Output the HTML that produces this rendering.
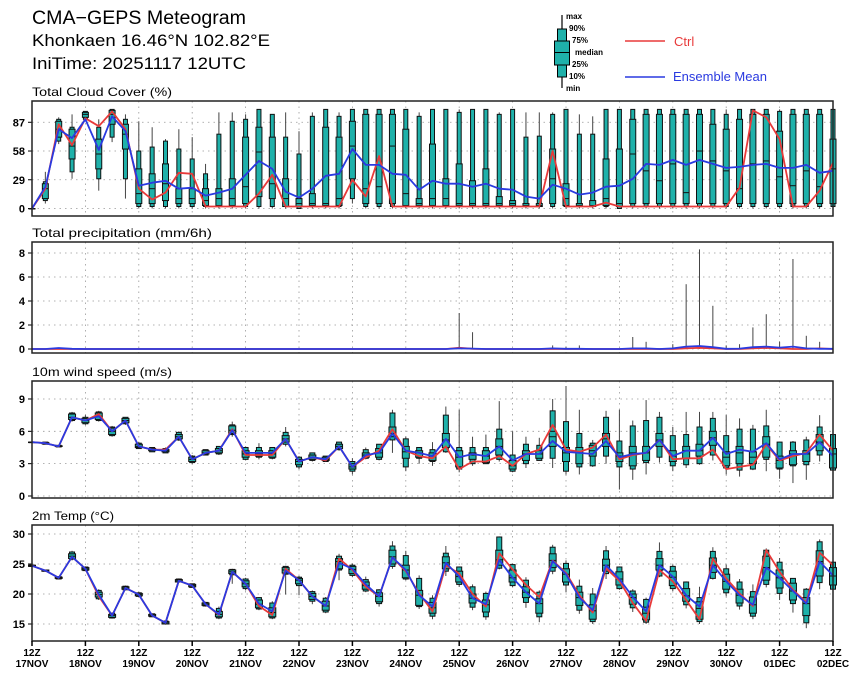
<!DOCTYPE html>
<html><head><meta charset="utf-8"><style>
html,body{margin:0;padding:0;background:#fff;}
svg{display:block;font-family:"Liberation Sans",sans-serif;}
</style></head><body>
<svg id="chart" width="860" height="679" viewBox="0 0 860 679" xmlns="http://www.w3.org/2000/svg">
<text x="32" y="24" font-size="19" textLength="214" lengthAdjust="spacingAndGlyphs">CMA−GEPS Meteogram</text>
<text x="32" y="46" font-size="17" textLength="238" lengthAdjust="spacingAndGlyphs">Khonkaen 16.46°N 102.82°E</text>
<text x="32" y="69" font-size="17" textLength="214" lengthAdjust="spacingAndGlyphs">IniTime: 20251117 12UTC</text>
<g>
 <line x1="562" y1="15" x2="562" y2="88" stroke="#000" stroke-width="1.2"/>
 <rect x="557.5" y="29" width="9" height="13" fill="#1fb1aa" stroke="#000"/>
 <rect x="554.5" y="41" width="15" height="24" fill="#1fb1aa" stroke="#000"/>
 <line x1="554.5" y1="52.5" x2="569.5" y2="52.5" stroke="#000"/>
 <rect x="557.5" y="65" width="9" height="12" fill="#1fb1aa" stroke="#000"/>
 <g font-size="8" font-weight="bold">
  <text x="566" y="19">max</text><text x="569" y="31">90%</text><text x="572" y="43">75%</text>
  <text x="575" y="55">median</text><text x="572" y="67">25%</text><text x="569" y="79">10%</text><text x="566" y="91">min</text>
 </g>
 <line x1="625" y1="41" x2="665" y2="41" stroke="#e83a3a" stroke-width="1.5"/>
 <text x="674" y="46" font-size="13" fill="#e83a3a">Ctrl</text>
 <line x1="625" y1="77" x2="665" y2="77" stroke="#2a3ae0" stroke-width="1.5"/>
 <text x="673" y="81" font-size="13" fill="#2a3ae0">Ensemble Mean</text>
</g>
<g id="plots"></g>
</svg>
<script>
// ---------- data (61 steps, 6-hourly from 2025-11-17 12Z) ----------
const dayLabels = ["17NOV","18NOV","19NOV","20NOV","21NOV","22NOV","23NOV","24NOV","25NOV","26NOV","27NOV","28NOV","29NOV","30NOV","01DEC","02DEC"];
// Cloud cover
const cloudCtrl = [0,20,85,64,91,83,98,80,20,9,16,36,35,2,2,2,2,15,34,2,2,2,2,2,29,12,53,2,2,2,2,2,2,2,2,2,2,2,2,58,2,2,2,6,2,2,2,2,2,2,2,2,2,21,99,92,70,2,2,18,46];
const cloudMean = [0,22,80,71,90,59,93,78,23,26,28,20,21,13,16,20,34,48,40,17,11,20,33,35,60,44,44,35,34,19,28,25,25,22,25,20,19,12,10,24,20,14,16,22,23,30,45,44,49,44,49,45,41,42,44,45,41,41,44,36,38];
const cloudMin = [0,5,65,30,88,18,67,10,0,0,0,0,0,0,0,0,0,0,0,0,0,0,0,0,5,0,0,0,0,0,0,0,0,0,0,0,0,0,0,0,0,0,0,0,0,0,0,0,0,0,0,0,0,0,0,0,0,0,0,0,0];
const cloudP10 = [0,8,68,37,90,30,72,30,2,2,2,2,2,2,2,2,2,2,2,2,0,2,2,2,10,2,2,2,2,2,2,2,2,2,2,2,2,2,2,2,2,2,2,2,0,2,2,2,2,2,2,2,2,2,2,2,2,2,2,2,2];
const cloudP25 = [0,10,72,50,92,40,85,60,5,5,8,5,5,3,3,3,5,12,10,2,2,3,3,3,30,5,5,5,3,3,3,3,3,3,3,3,3,2,2,5,3,2,2,3,2,5,5,5,5,5,5,5,5,5,5,5,5,5,5,5,5];
const cloudMed = [0,20,80,63,95,55,95,75,15,20,25,10,10,8,10,10,22,57,25,10,5,5,5,10,63,20,22,63,15,5,10,10,5,5,5,5,5,3,3,30,10,3,3,10,5,55,38,28,45,16,58,48,38,20,45,48,32,23,38,22,40];
const cloudP75 = [0,25,88,80,97,70,99,85,40,35,45,20,20,20,20,30,72,82,72,30,10,15,82,72,88,95,95,95,80,10,65,30,45,28,40,12,8,5,5,60,25,5,8,50,60,90,95,95,95,95,95,85,80,90,95,95,78,95,95,95,70];
const cloudP90 = [0,27,90,82,98,82,100,90,58,62,68,60,50,35,75,88,90,100,95,72,55,93,100,93,100,100,100,100,100,93,100,100,97,100,100,95,100,72,73,95,100,75,75,100,100,100,100,100,100,100,100,100,95,100,100,100,98,100,100,100,100];
const cloudMax = [0,37,92,95,98,90,100,95,88,82,70,80,72,45,97,97,95,100,95,97,78,97,100,97,100,100,100,100,100,97,100,100,100,100,100,97,100,97,97,97,100,95,93,100,100,100,100,100,100,100,100,100,100,100,100,100,100,100,100,100,100];
// Precipitation
const precCtrl = [0,0,0,0,0,0,0,0,0,0,0,0,0,0,0,0,0,0,0,0,0,0,0,0,0,0,0,0,0,0,0,0,0.1,0.02,0,0,0,0,0,0,0,0,0,0,0,0,0,0,0,0.05,0.1,0.05,0,0,0.05,0.1,0.05,0,0,0.05,0];
const precMean = [0,0,0.08,0.02,0,0,0,0,0,0,0,0,0,0,0,0,0,0,0,0,0,0,0,0,0,0,0,0,0,0,0,0,0.05,0.03,0,0,0,0,0,0.05,0.02,0.02,0,0,0,0.05,0.05,0,0.05,0.2,0.25,0.15,0.02,0.03,0.15,0.2,0.12,0.2,0.05,0.02,0.02];
const precMax = [0,0,0.1,0,0,0,0,0,0,0,0,0,0,0,0,0,0,0,0,0,0,0,0,0,0,0,0,0,0,0,0,0,3.0,1.4,0,0,0,0,0,0.3,0.2,0.3,0,0,0,1.0,0.6,0,0.4,5.4,8.3,3.6,0.3,0.4,1.8,2.9,0.6,7.5,1.1,0.6,0.1];
// Wind speed
const windCtrl = [5.0,4.9,4.6,7.3,7.0,7.6,6.0,7.0,4.6,4.3,4.3,5.5,3.4,4.0,4.2,6.2,3.8,3.8,3.8,5.3,3.2,3.6,3.3,4.6,2.7,3.6,4.2,6.2,4.2,3.7,3.5,4.6,2.5,3.2,3.2,3.7,2.8,3.9,4.3,6.6,4.3,4.1,4.5,5.7,3.4,3.8,4.0,5.2,3.4,3.5,3.5,4.3,2.5,2.7,2.9,4.8,3.3,3.7,4.0,5.7,4.2];
const windMean = [5.0,4.9,4.6,7.3,7.0,7.4,6.0,7.0,4.6,4.3,4.2,5.5,3.4,4.0,4.2,6.1,4.0,4.0,4.0,5.3,3.2,3.6,3.4,4.6,2.7,3.8,4.0,5.8,4.2,4.0,3.7,5.3,3.6,3.9,3.7,4.6,3.3,3.9,3.9,5.1,4.1,4.0,3.9,5.1,3.6,3.9,4.0,5.2,3.7,4.2,4.2,5.4,3.9,4.3,4.1,4.9,3.4,3.9,3.9,5.0,3.7];
const windMed = [5.0,4.9,4.6,7.3,7.0,7.4,6.0,7.0,4.6,4.3,4.2,5.5,3.4,4.0,4.2,6.1,3.9,3.9,3.9,5.3,3.2,3.6,3.4,4.6,2.7,3.8,4.0,5.8,4.1,4.0,3.7,5.2,3.6,3.8,3.7,4.6,2.8,3.9,3.9,5.5,4.0,4.0,4.2,5.3,3.7,4.0,4.0,5.2,3.7,4.2,4.2,5.4,3.6,4.0,3.6,4.8,3.3,3.9,3.9,5.0,3.9];
const windP25 = [5.0,4.85,4.6,7.1,6.8,7.1,5.7,6.8,4.5,4.2,4.1,5.3,3.2,3.9,4.0,5.8,3.6,3.7,3.6,5.0,2.9,3.4,3.3,4.4,2.5,3.6,3.6,5.5,3.5,3.6,3.3,4.5,2.7,3.4,3.1,3.8,2.5,3.3,3.5,4.6,3.2,3.0,3.7,4.6,3.2,2.8,3.3,4.6,3.2,3.5,3.7,4.7,2.8,3.0,3.0,3.6,2.6,2.9,3.2,4.2,2.6];
const windP75 = [5.0,4.95,4.65,7.6,7.2,7.7,6.3,7.2,4.8,4.4,4.3,5.7,3.6,4.2,4.4,6.5,4.2,4.2,4.2,5.6,3.4,3.8,3.6,4.8,3.0,4.0,4.4,6.4,4.6,4.2,4.0,5.8,4.2,4.0,4.2,5.3,3.3,4.2,4.2,6.0,4.5,4.5,4.7,5.8,4.0,4.6,4.6,5.8,4.2,4.6,4.8,6.0,4.1,4.6,4.1,5.5,3.7,4.2,4.2,5.7,4.4];
const windP10 = [5.0,4.8,4.55,7.0,6.7,7.0,5.6,6.7,4.4,4.1,4.0,5.2,3.1,3.8,3.9,5.7,3.4,3.6,3.5,4.8,2.7,3.3,3.2,4.3,2.3,3.5,3.4,5.2,2.7,3.5,3.2,4.1,2.5,3.0,3.0,3.4,2.3,3.0,3.3,3.5,2.3,2.7,2.8,3.7,2.7,2.5,3.1,3.6,2.8,2.9,3.0,3.8,2.6,2.4,2.5,3.4,2.5,2.8,2.9,3.8,2.4];
const windP90 = [5.0,5.0,4.7,7.7,7.3,7.8,6.4,7.3,4.9,4.5,4.4,5.9,3.7,4.3,4.6,6.6,4.5,4.5,4.5,5.9,3.6,4.0,3.7,5.0,3.2,4.3,4.8,7.7,5.3,4.5,4.3,7.5,4.5,4.5,4.5,6.2,3.8,4.8,4.7,7.9,6.9,5.8,4.9,7.3,5.1,6.5,7.0,7.3,5.6,5.7,6.4,7.2,5.6,6.2,6.2,6.5,5.0,5.0,5.2,6.4,5.7];
const windMin = [5.0,4.8,4.5,6.9,6.6,6.9,5.5,6.6,4.4,4.1,4.0,5.1,3.0,3.8,3.8,5.5,3.3,3.4,3.4,4.6,2.5,3.2,3.2,4.2,2.0,3.4,3.3,4.0,2.3,3.0,2.8,4.0,2.2,2.8,3.0,3.2,2.2,2.6,3.3,2.6,2.0,2.0,2.7,3.0,0.6,1.5,2.0,3.1,2.3,2.6,2.9,3.3,2.0,1.8,2.4,2.3,1.6,1.2,1.5,3.2,2.2];
const windMax = [5.0,5.0,4.7,7.8,7.5,7.9,6.5,7.3,5.0,4.5,4.5,6.0,3.8,4.3,4.6,6.9,4.6,4.9,4.5,6.4,3.7,4.0,3.7,5.0,3.5,4.5,4.8,8.0,5.5,4.5,5.0,8.3,8.0,5.5,5.7,8.8,6.0,5.5,5.4,9.0,10.2,8.0,5.2,7.9,8.0,7.0,8.9,7.8,6.4,7.8,7.8,7.8,7.5,7.2,6.6,8.0,5.0,5.1,5.5,7.5,5.7];
// 2m temperature
const tempCtrl = [24.7,23.9,22.7,26.2,24.2,19.6,16.4,21.0,19.9,16.4,15.2,22.2,21.4,18.3,16.5,23.7,21.7,18.0,16.5,24.2,22.3,19.6,18.0,25.9,24.0,21.2,19.6,26.1,23.8,20.1,17.1,24.8,23.4,20.0,17.9,26.8,24.1,21.5,19.5,25.6,23.5,19.8,16.9,24.3,22.2,18.5,15.5,24.0,22.1,19.0,15.8,25.9,22.6,20.1,18.0,27.3,23.7,20.7,18.6,26.9,24.8];
const tempMean = [24.7,23.9,22.7,26.2,24.2,19.9,16.4,21.0,19.9,16.4,15.2,22.2,21.4,18.3,16.6,23.7,21.7,18.4,17.1,23.9,22.3,19.6,18.0,25.2,24.2,21.6,19.6,26.1,24.0,19.8,17.9,25.2,22.9,19.3,18.3,25.7,22.7,20.3,18.4,25.5,23.3,19.4,17.3,24.8,22.5,19.5,17.1,24.8,22.9,19.8,17.9,24.8,22.1,19.8,18.2,24.4,22.7,20.5,18.4,25.4,23.1];
const tempMed = [24.7,23.9,22.7,26.3,24.2,19.9,16.4,21.0,19.9,16.4,15.2,22.2,21.4,18.3,16.6,23.7,21.7,18.3,16.9,24.0,22.3,19.6,18.0,25.4,24.1,21.4,19.6,26.2,24.0,19.8,17.7,25.2,22.9,19.3,18.2,25.7,22.7,20.3,18.4,25.6,23.3,19.4,17.2,24.8,22.5,19.4,16.8,24.8,22.8,19.7,17.6,24.8,22.1,19.8,18.2,24.4,22.7,20.5,18.4,25.4,23.0];
const tempP25 = [24.6,23.8,22.6,25.9,24.0,19.5,16.1,20.8,19.7,16.3,15.0,22.0,21.2,18.1,16.2,23.4,21.2,17.7,16.2,23.5,21.7,19.1,17.3,24.2,23.4,20.8,18.7,25.0,22.7,18.1,16.8,24.2,22.0,18.5,17.0,24.8,22.0,19.4,16.8,24.4,22.0,18.1,15.8,23.8,21.5,18.3,15.7,24.0,21.4,18.8,15.8,23.6,20.8,18.5,16.8,22.3,21.0,19.0,16.4,23.0,21.5];
const tempP75 = [24.8,24.0,22.8,26.7,24.4,20.3,16.6,21.2,20.1,16.6,15.4,22.4,21.6,18.5,17.1,24.0,22.2,19.0,17.7,24.4,22.6,20.1,18.8,25.9,24.6,22.0,20.2,27.3,24.8,20.6,18.6,26.2,23.8,20.0,19.0,27.3,24.0,21.2,19.2,26.7,24.2,20.3,18.2,25.8,23.7,20.0,17.8,25.9,23.8,20.9,18.7,26.0,23.3,20.8,19.5,26.3,24.0,21.8,19.4,27.2,24.4];
const tempP10 = [24.6,23.8,22.5,25.8,23.9,19.2,16.0,20.7,19.6,16.2,15.0,22.0,21.1,18.0,16.0,23.2,20.9,17.5,16.0,23.3,21.4,18.8,17.0,24.0,23.1,20.5,18.4,24.6,22.5,17.9,16.3,23.8,21.6,17.8,16.2,24.3,21.4,18.6,16.2,23.8,21.5,17.3,15.4,23.4,20.9,17.7,15.3,23.0,20.9,18.2,15.4,22.6,20.2,18.0,16.3,21.6,20.1,18.4,15.2,21.9,20.8];
const tempP90 = [24.8,24.0,22.9,27.0,24.5,20.6,16.8,21.3,20.2,16.7,15.5,22.5,21.7,18.6,17.6,24.1,22.5,19.4,18.5,24.6,22.8,20.4,19.3,26.3,24.8,22.4,20.7,28.0,26.4,22.6,19.3,26.8,24.5,21.2,20.1,29.5,24.9,22.3,20.3,27.8,25.1,21.3,20.0,27.2,24.5,20.5,19.1,27.1,24.6,22.0,19.4,27.1,24.2,22.0,20.4,27.3,25.3,22.6,20.8,28.7,25.3];
const tempMin = [24.5,23.7,22.5,25.6,23.8,19.0,15.9,20.6,19.5,16.2,14.9,21.9,21.0,17.9,15.8,21.7,20.6,17.3,15.8,19.9,19.8,18.3,16.8,22.3,22.8,20.3,17.9,24.2,22.3,17.5,15.8,23.0,21.2,17.3,15.7,24.1,21.1,17.7,15.3,23.3,20.3,16.7,15.0,22.5,20.7,17.0,15.0,22.8,20.5,17.6,15.0,22.4,19.6,17.4,15.8,21.1,19.0,16.9,14.3,20.8,20.4];
const tempMax = [24.9,24.1,22.9,27.2,24.6,20.8,16.9,21.4,20.3,16.7,15.5,22.6,21.7,18.7,17.9,24.2,22.7,19.5,18.8,24.7,23.0,20.6,19.5,26.7,25.1,22.9,20.8,28.8,27.2,23.1,19.8,28.0,24.6,21.6,20.4,29.6,25.1,22.8,20.6,28.2,25.6,22.4,21.0,28.0,24.6,20.8,19.4,28.6,24.9,22.1,21.2,27.8,24.9,22.5,21.6,27.6,26.0,22.6,21.0,29.1,25.3];
const cloudTicks = [0,29,58,87];
const precTicks = [0,2,4,6,8];
const windTicks = [0,3,6,9];
const tempTicks = [15,20,25,30];

// ---------- drawing ----------
const NS = "http://www.w3.org/2000/svg";
const g = document.getElementById("plots");
const X0 = 32, X1 = 833, NSTEP = 60;
function xAt(i){ return X0 + (X1 - X0) * i / NSTEP; }
function mk(tag, attrs, parent){
  const e = document.createElementNS(NS, tag);
  for (const k in attrs) e.setAttribute(k, attrs[k]);
  (parent || g).appendChild(e);
  return e;
}
const panels = [
  {key:"cloud", title:"Total Cloud Cover (%)", titleW:140, top:101, bot:216, v0:0, y0:208.5, k:0.991, ticks:cloudTicks,
   ctrl:cloudCtrl, mean:cloudMean, st:[cloudMin,cloudP10,cloudP25,cloudMed,cloudP75,cloudP90,cloudMax], bw:4, bi:6},
  {key:"precip", title:"Total precipitation (mm/6h)", titleW:180, top:242, bot:353, v0:0, y0:349, k:12, ticks:precTicks,
   ctrl:precCtrl, mean:precMean, st:null, bw:3, bi:4},
  {key:"wind", title:"10m wind speed (m/s)", titleW:140, top:381, bot:498, v0:0, y0:496, k:10.78, ticks:windTicks,
   ctrl:windCtrl, mean:windMean, st:[windMin,windP10,windP25,windMed,windP75,windP90,windMax], bw:5, bi:7},
  {key:"temp", title:"2m Temp (°C)", titleW:82, top:525, bot:641, v0:30, y0:534, k:6, ticks:tempTicks,
   ctrl:tempCtrl, mean:tempMean, st:[tempMin,tempP10,tempP25,tempMed,tempP75,tempP90,tempMax], bw:5, bi:7}
];
panels.forEach(p => {
  const yAt = v => p.y0 - (v - p.v0) * p.k;
  const pg = mk("g", {});
  
  
  const t = mk("text", {x:32, y:p.top-5, "font-size":12, textLength:p.titleW, lengthAdjust:"spacingAndGlyphs"}, pg);
  t.textContent = p.title;
  
  
  for (let d = 1; d < 15; d++) {
    const gl = mk("line", {x1:xAt(d*4), x2:xAt(d*4), y1:p.top, y2:p.bot, stroke:"#999", "stroke-width":0.8, "stroke-dasharray":"1.5,4"}, pg);
    
    
  }
  p.ticks.forEach(v => {
    const y = yAt(v);
    const hl = mk("line", {x1:X0, x2:X1, y1:y, y2:y, stroke:"#999", "stroke-width":0.8, "stroke-dasharray":"1.5,4"}, pg);
    
    
    mk("line", {x1:X0-4, x2:X0, y1:y, y2:y, stroke:"#000", "stroke-width":1}, pg);
    const tl = mk("text", {x:X0-7, y:y+4, "font-size":11, "font-weight":"bold", "text-anchor":"end"}, pg);
    tl.textContent = v;
    
    
  });
  for (let i = 0; i <= NSTEP; i++) {
    const x = xAt(i);
    if (p.st) {
      const [mn,p10,p25,md,p75,p90,mx] = p.st.map(a => yAt(a[i]));
      const bg = mk("g", {}, pg);
      
      
      mk("line", {x1:x, x2:x, y1:mx, y2:mn, stroke:"#444", "stroke-width":1}, bg);
      mk("rect", {x:x-p.bw/2, y:p90, width:p.bw, height:Math.max(0.5,p10-p90), fill:"#1fb1aa", stroke:"#111", "stroke-width":1}, bg);
      mk("rect", {x:x-p.bi/2, y:p75, width:p.bi, height:Math.max(0.5,p25-p75), fill:"#1fb1aa", stroke:"#111", "stroke-width":1}, bg);
      mk("line", {x1:x-p.bi/2, x2:x+p.bi/2, y1:md, y2:md, stroke:"#111", "stroke-width":1}, bg);
    } else if (precMax[i] > 0) {
      const w = mk("line", {x1:x, x2:x, y1:yAt(precMax[i]), y2:yAt(0), stroke:"#444", "stroke-width":1}, pg);
      
      
    }
  }
  const ptsC = p.ctrl.map((v,i) => xAt(i).toFixed(1) + "," + yAt(v).toFixed(1)).join(" ");
  const ptsM = p.mean.map((v,i) => xAt(i).toFixed(1) + "," + yAt(v).toFixed(1)).join(" ");
  const lc = mk("polyline", {points:ptsC, fill:"none", stroke:"#e83a3a", "stroke-width":1.8, "stroke-linejoin":"round"}, pg);
  
  
  const lm = mk("polyline", {points:ptsM, fill:"none", stroke:"#2a3ae0", "stroke-width":1.8, "stroke-linejoin":"round"}, pg);
  
  
  const fr = mk("rect", {x:X0, y:p.top, width:X1-X0, height:p.bot-p.top, fill:"none", stroke:"#222", "stroke-width":1.5}, pg);
  
  
});
dayLabels.forEach((d, k) => {
  const x = xAt(k*4);
  mk("line", {x1:x, x2:x, y1:641, y2:646, stroke:"#000", "stroke-width":1.5});
  const t1 = mk("text", {x:x, y:656, "font-size":10, "font-weight":"bold", "text-anchor":"middle"});
  t1.textContent = "12Z";
  
  
  const t2 = mk("text", {x:x, y:667, "font-size":10, "font-weight":"bold", "text-anchor":"middle"});
  t2.textContent = d;
  
  
});
</script>
</body></html>
